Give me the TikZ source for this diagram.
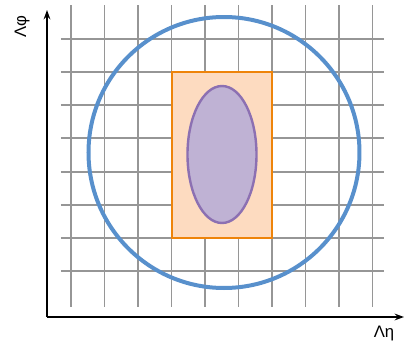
\documentclass[tikz,border=0pt]{standalone}
\usepackage{fontspec}
\setmainfont{Liberation Sans}
\usepackage{tikz}
\usetikzlibrary{arrows.meta}
\definecolor{gridgray}{RGB}{150,150,150}
\definecolor{conepeach}{RGB}{253,219,192}
\definecolor{coneorange}{RGB}{238,132,10}
\definecolor{jetlilac}{RGB}{191,178,212}
\definecolor{jetpurple}{RGB}{140,112,178}
\definecolor{ringblue}{RGB}{88,144,204}
\begin{document}
\begin{tikzpicture}[x=0.75pt,y=-0.75pt,font=\fontsize{12.5}{14}\selectfont,
  gridline/.style={draw=gridgray,line width=1.4pt},
  axis/.style={-{Stealth[length=7pt,width=5pt]},line width=1.2pt,draw=black},
  lbl/.style={inner sep=0pt,text=black}]
  \useasboundingbox (0,0) rectangle (405,347);
  % grid
  \foreach \gx in {0,...,9}
    \draw[gridline] (71+33.5*\gx,5) -- (71+33.5*\gx,307);
  \foreach \gy in {-1,...,6}
    \draw[gridline] (61,72+33.2*\gy) -- (384,72+33.2*\gy);
  % regions
  \draw[fill=conepeach,draw=coneorange,line width=1.8pt] (172,72) rectangle (272,238);
  \draw[fill=jetlilac,draw=jetpurple,line width=1.8pt] (222,154.5) ellipse (34.5 and 68.5);
  \draw[draw=ringblue,line width=3pt] (224,152.5) circle (135.5);
  % axes
  \coordinate (origin) at (47,317);
  \coordinate (ytip) at (47,10);
  \coordinate (xtip) at (404,317);
  \draw[axis] (origin) -- (ytip);
  \draw[axis] (origin) -- (xtip);
  \node[lbl,rotate=90] (ylab) at (22,27) {Λφ};
  \node[lbl] (xlab) at (384,333) {Λη};
\end{tikzpicture}
\end{document}
